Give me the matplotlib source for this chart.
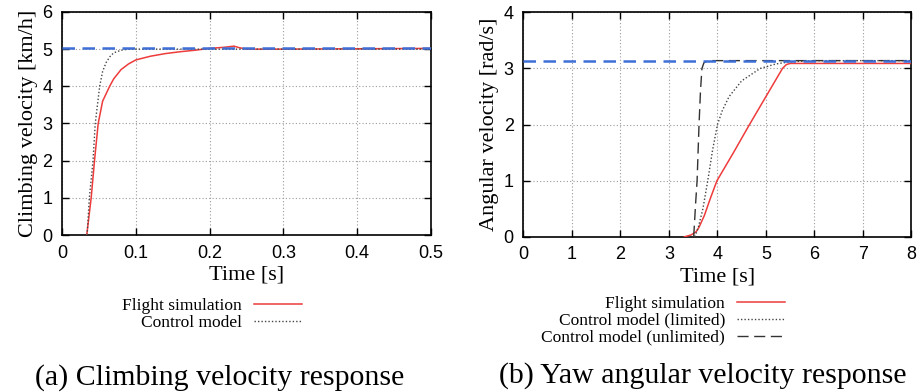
import matplotlib
matplotlib.use("Agg")
import matplotlib.pyplot as plt

# ---- (a) climbing velocity ----
a_flight_t = [0.0335, 0.0395, 0.044, 0.049, 0.055, 0.0645, 0.07, 0.08, 0.09, 0.1, 0.12, 0.14,
              0.16, 0.18, 0.2, 0.22, 0.233, 0.24, 0.25, 0.3, 0.4, 0.5]
a_flight_v = [0.0, 1.0, 2.0, 3.0, 3.6, 4.0, 4.2, 4.45, 4.6, 4.71, 4.81, 4.88,
              4.93, 4.97, 5.02, 5.05, 5.08, 5.04, 5.0, 5.0, 5.01, 5.02]
a_model_t = [0.034, 0.037, 0.042, 0.045, 0.051, 0.055, 0.06, 0.065, 0.07, 0.08, 0.09, 0.5]
a_model_v = [0.0, 1.0, 2.0, 3.0, 4.0, 4.4, 4.65, 4.8, 4.9, 4.97, 5.0, 5.0]
a_ref = 5.02
a_xticks = [0, 0.1, 0.2, 0.3, 0.4, 0.5]
a_xlabels = ["0", "0.1", "0.2", "0.3", "0.4", "0.5"]
a_yticks = [0, 1, 2, 3, 4, 5, 6]

# ---- (b) yaw angular velocity ----
b_flight_t = [3.32, 3.45, 3.56, 3.62, 3.73, 3.86, 3.99, 4.33, 4.66, 5.0, 5.34, 5.42, 5.5, 8.0]
b_flight_v = [0.0, 0.03, 0.09, 0.17, 0.38, 0.7, 1.0, 1.5, 2.0, 2.5, 3.0, 3.07, 3.09, 3.09]
b_lim_t = [3.53, 3.6, 3.7, 3.8, 3.9, 4.0, 4.1, 4.24, 4.5, 4.88, 5.2, 5.5, 6.0, 8.0]
b_lim_v = [0.0, 0.15, 0.5, 1.0, 1.55, 2.0, 2.25, 2.5, 2.78, 3.0, 3.08, 3.12, 3.14, 3.14]
b_unl_t = [3.51, 3.55, 3.58, 3.62, 3.65, 3.68, 3.72, 3.8, 8.0]
b_unl_v = [0.0, 0.6, 1.0, 2.0, 2.6, 3.0, 3.1, 3.14, 3.14]
b_ref = 3.14
b_xticks = [0, 1, 2, 3, 4, 5, 6, 7, 8]
b_yticks = [0, 1, 2, 3, 4]

RED = "#ee3b3b"
BLUE = "#3d6fd6"
SERIF = ["Liberation Serif", "DejaVu Serif"]
SANS = ["Liberation Sans", "DejaVu Sans"]

fig = plt.figure(figsize=(9.19, 3.92), dpi=100)
axa = fig.add_axes([0.0675, 0.4005, 0.4015, 0.569])
axb = fig.add_axes([0.5696, 0.396, 0.4222, 0.5724])


def style(ax, xticks, yticks, xlim, ylim, ylabel, xlabels=None):
    ax.set_xlim(*xlim)
    ax.set_ylim(*ylim)
    ax.set_xticks(xticks)
    if xlabels is not None:
        ax.set_xticklabels(xlabels)
    ax.set_yticks(yticks)
    ax.grid(True, color="#9a9a9a", linestyle=(0, (1, 2)), linewidth=0.8)
    ax.tick_params(direction="in", length=5, width=1.0, top=True, right=True,
                   labelsize=13, colors="black")
    ax.tick_params(axis="x", pad=7)
    ax.tick_params(axis="y", pad=7)
    for lab in ax.get_xticklabels() + ax.get_yticklabels():
        lab.set_family(SANS)
    for s in ax.spines.values():
        s.set_linewidth(1.2)
    ax.set_xlabel("Time [s]", family=SERIF, fontsize=16, labelpad=3)
    ax.set_ylabel(ylabel, family=SERIF, fontsize=16, labelpad=3)


# (a)
axa.plot(a_flight_t, a_flight_v, color=RED, lw=1.1, label="Flight simulation", zorder=3)
axa.plot(a_model_t, a_model_v, color="#444444", lw=1.0, linestyle=(0, (1, 1.5)),
         label="Control model", zorder=3)
axa.axhline(a_ref, color=BLUE, lw=1.8, linestyle=(0, (5, 3)), zorder=4)
style(axa, a_xticks, a_yticks, (0, 0.5), (0, 6), "Climbing velocity [km/h]", a_xlabels)

# (b)
axb.plot(b_flight_t, b_flight_v, color=RED, lw=1.1, label="Flight simulation", zorder=3)
axb.plot(b_lim_t, b_lim_v, color="#444444", lw=1.0, linestyle=(0, (1, 1.5)),
         label="Control model (limited)", zorder=3)
axb.plot(b_unl_t, b_unl_v, color="#333333", lw=1.0, linestyle=(0, (8, 4)),
         label="Control model (unlimited)", zorder=3)
axb.axhline(b_ref, color=BLUE, lw=1.8, linestyle=(0, (5, 3)), zorder=4)
style(axb, b_xticks, b_yticks, (0, 8), (0, 4), "Angular velocity [rad/s]")

LEG = dict(bbox_transform=fig.transFigure, frameon=False, markerfirst=False,
           prop={"family": SERIF, "size": 12.5}, handlelength=2.75,
           handletextpad=0.7, labelspacing=0.05, borderpad=0, loc="upper center")
lega = axa.legend(bbox_to_anchor=(212 / 919, 1 - 289 / 392), **LEG)
legb = axb.legend(bbox_to_anchor=(663 / 919, 1 - 287 / 392), **LEG)

fig.text(220 / 919, 1 - 378 / 392, "(a) Climbing velocity response", family=SERIF,
         fontsize=21.5, ha="center", va="center")
fig.text(703 / 919, 1 - 376 / 392, "(b) Yaw angular velocity response", family=SERIF,
         fontsize=21.5, ha="center", va="center")

fig.savefig("out.png", dpi=100)
